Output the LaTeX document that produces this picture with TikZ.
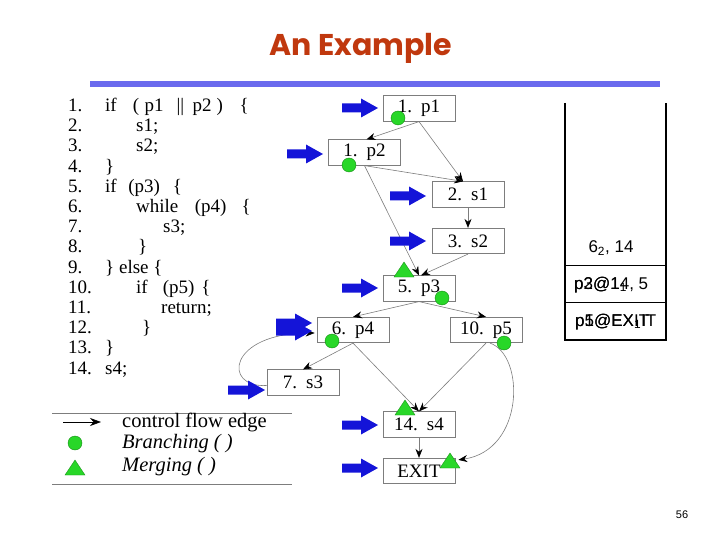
\documentclass[tikz,border=0pt]{standalone}
\usepackage{fontspec}
\setmainfont{Liberation Serif}
\newfontfamily\sansf{Liberation Sans}
\newfontfamily\titlef{Poppins}
\usetikzlibrary{arrows.meta,calc}
\definecolor{titlered}{RGB}{192,56,14}
\definecolor{rulebl}{RGB}{106,106,238}
\definecolor{arrbl}{RGB}{20,20,216}
\definecolor{gfill}{RGB}{40,215,40}
\definecolor{gdraw}{RGB}{20,140,20}
\definecolor{edgegray}{RGB}{125,125,125}
\newcommand\barrow[3]{\fill[arrbl] (#1,#3-4.5) -- (#2-17,#3-4.5) -- (#2-17,#3-9.5) -- (#2,#3) -- (#2-17,#3+9.5) -- (#2-17,#3+4.5) -- (#1,#3+4.5) -- cycle;}
\newcommand\gtri[2]{\filldraw[gfill,draw=gdraw,line width=0.4pt] (#1-10,#2+7) -- (#1+10,#2+7) -- (#1,#2-8) -- cycle;}
\tikzset{
  box/.style={draw=edgegray,line width=0.7pt,minimum width=72pt,minimum height=25.5pt,inner sep=0pt,font=\fontsize{19}{19}\selectfont,fill=white},
  edge/.style={draw=edgegray,line width=0.6pt,-{Stealth[black,length=9pt,width=7pt]}},
  code/.style={anchor=base west,inner sep=0pt,font=\fontsize{19}{19}\selectfont},
  gdot/.style={circle,fill=gfill,draw=gdraw,line width=0.4pt,minimum size=14pt,inner sep=0pt},
  stk/.style={font=\sansf\fontsize{17}{17}\selectfont,inner sep=0pt,anchor=west},
  leg/.style={anchor=west,inner sep=0pt,font=\fontsize{20.5}{20.5}\selectfont}
}
\begin{document}
\begin{tikzpicture}[x=1pt,y=-1pt]
\useasboundingbox (0,0) rectangle (720,540);
% title
\node[font=\titlef\bfseries\fontsize{30}{30}\selectfont,text=titlered,inner sep=0pt] (title) at (361,48) {An Example};
\fill[rulebl] (90,81.5) rectangle (660,87);
% code listing
\foreach \i/\t in {1/1.,2/2.,3/3.,4/4.,5/5.,6/6.,7/7.,8/8.,9/9.,10/10.,11/11.,12/12.,13/13.,14/14.}{
  \node[code] (n\i) at (68,{105+(\i-1)*20.2+6.5}) {\t};
}
\node[code] (c1) at (105,111.5) {if\hspace{16pt}(\hspace{5.5pt}p1\hspace{13pt}||\hspace{8.5pt}p2\hspace{5pt})\hspace{16.5pt}\{};
\node[code] (c2) at (136,131.7) {s1;};
\node[code] (c3) at (136,151.9) {s2;};
\node[code] (c4) at (105,172.1) {\}};
\node[code] (c5) at (105,192.3) {if\hspace{11.5pt}(p3)\hspace{13pt}\{};
\node[code] (c6) at (136,212.5) {while\hspace{16.5pt}(p4)\hspace{15pt}\{};
\node[code] (c7) at (163,232.7) {s3;};
\node[code] (c8) at (138,252.9) {\}};
\node[code] (c9) at (105,273.1) {\} else \{};
\node[code] (c10) at (136,293.3) {if\hspace{15pt}(p5)\hspace{7pt}\{};
\node[code] (c11) at (161,313.5) {return;};
\node[code] (c12) at (142,333.7) {\}};
\node[code] (c13) at (105,353.9) {\}};
\node[code] (c14) at (105,374.1) {s4;};
% graph boxes
\node[box] (p1) at (419,108.5) {1.\hspace{9pt}p1};
\node[box] (p2) at (364.5,152.5) {1.\hspace{9pt}p2};
\node[box] (s1) at (468,194.5) {2.\hspace{9pt}s1};
\node[box] (s2) at (468,241) {3.\hspace{9pt}s2};
\node[box] (p3) at (419,288.5) {5.\hspace{9pt}p3};
\node[box] (p4) at (353,330) {6.\hspace{9pt}p4};
\node[box] (p5) at (486,330) {10.\hspace{9pt}p5};
\node[box] (s3) at (303,382.5) {7.\hspace{9pt}s3};
\node[box] (s4) at (419,424.5) {14.\hspace{9pt}s4};
\node[box] (ex) at (419,471) {EXIT};
% edges
\draw[edge] (p1.south) -- ([xshift=2pt]p2.north);
\draw[edge] (p1.south) -- ([xshift=-5pt]s1.north);
\draw[edge] (p2.south) -- ([xshift=-5pt]s1.north);
\draw[edge] (p2.south) -- (p3.north);
\draw[edge] (s1.south) -- (s2.north);
\draw[edge] (s2.south) -- ([xshift=2pt]p3.north);
\draw[edge] (p3.south) -- (p4.north);
\draw[edge] (p3.south) -- (p5.north);
\draw[edge] (p4.south) -- (s3.north);
\draw[edge] (p4.south) -- (s4.north);
\draw[edge] (p5.south) -- (s4.north);
\draw[edge] (s4.south) -- (ex.north);
\draw[edge] ([xshift=4pt]p5.south) .. controls (525,355) and (525,450) .. ([xshift=3pt,yshift=-2pt]ex.north east);
\draw[edge] ([yshift=-3pt]s3.west) .. controls (222,388) and (228,333) .. ([yshift=-3pt,xshift=-2pt]p4.west);
% blue arrows
\barrow{342}{378}{108}
\barrow{287}{323}{154}
\barrow{390}{426}{196}
\barrow{390}{426}{241}
\barrow{342}{378}{288}
\barrow{276}{312}{323}
\barrow{276}{312}{331}
\barrow{228}{265}{390}
\barrow{342}{378}{425}
\barrow{342}{378}{468}
% green markers
\node[gdot] (b1) at (398,118) {};
\node[gdot] (b2) at (349,165) {};
\node[gdot] (b3) at (442,298) {};
\node[gdot] (b4) at (332,341) {};
\node[gdot] (b5) at (504,343) {};
\gtri{404}{270}
\gtri{405}{408}
\gtri{450}{461}
% legend
\draw[edgegray,line width=0.6pt] (52,413) -- (292,413);
\draw[edgegray,line width=0.6pt] (52,484) -- (292,484);
\coordinate (la) at (63,422);
\coordinate (lb) at (101,422);
\draw[draw=black,line width=0.6pt,-{Stealth[black,length=11pt,width=8pt]}] (la) -- (lb);
\node[leg] (lt1) at (122,422) {control flow edge};
\node[gdot] (lg) at (75,443) {};
\node[leg] (lt2) at (122,444) {\itshape Branching ( )};
\gtri{75}{468}
\node[leg] (lt3) at (122,467) {\itshape Merging ( )};
% stack
\draw[black,line width=1.2pt] (565,103) -- (565,340) -- (666,340) -- (666,103);
\draw[black,line width=0.8pt] (565,265) -- (666,265);
\draw[black,line width=0.8pt] (565,302) -- (666,302);
\node[font=\sansf\fontsize{17}{17}\selectfont,inner sep=0pt] (st1) at (611,248) {6\textsubscript{2}, 14};
\node[stk] (st2a) at (574,285) {p2@14, 5};
\node[stk] (st2b) at (574,285) {p3@1\textsubscript{1}};
\node[stk] (st3a) at (575,322) {p1@EXIT};
\node[stk] (st3b) at (575,322) {p5@EX\textsubscript{1}IT};
% page number
\node[font=\sansf\fontsize{11}{11}\selectfont,inner sep=0pt] (pg) at (682,515) {56};
\end{tikzpicture}
\end{document}
